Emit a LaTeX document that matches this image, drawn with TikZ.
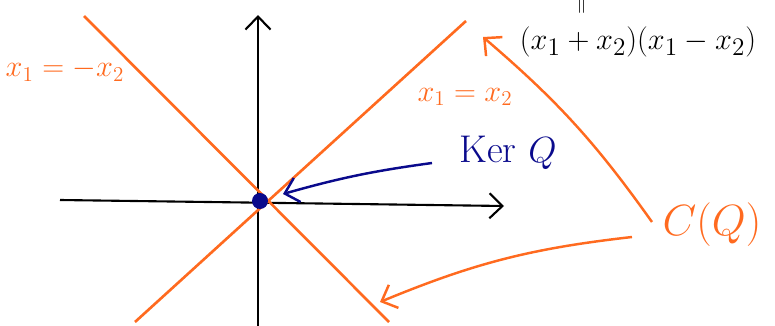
\documentclass[tikz,border=0pt]{standalone}
\usetikzlibrary{arrows.meta, calc}
\definecolor{pen}{HTML}{FF6A1F}
\definecolor{ink}{HTML}{0A0A8C}

\begin{document}
\begin{tikzpicture}[
    x=0.02cm, y=-0.02cm,
    >={Straight Barb[length=2.6mm,width=5mm]},
    axis/.style={line width=1.2pt, black},
    cone/.style={line width=1.5pt, pen},
    conelabel/.style={text=pen, font=\fontsize{17}{20}\selectfont},
    pointer/.style={->, line width=1.4pt}
]
\useasboundingbox (0,0) rectangle (775,325);

% --- Achsen ---
\coordinate (xl) at (60,200);
\coordinate (xr) at (504,206);
\coordinate (yb) at (258,330);
\coordinate (yt) at (258,15);
\draw[axis,->] (xl) -- (xr);
\draw[axis,->] (yb) -- (yt);

% --- Kegel C(Q): zwei Geraden ---
\coordinate (a1) at (135,322);
\coordinate (a2) at (466,21);
\coordinate (b1) at (84,16);
\coordinate (b2) at (389,322);
\draw[cone] (a1) -- (a2);
\draw[cone] (b1) -- (b2);

\node[conelabel] (lminus) at (65,70) {$x_1 = -x_2$};
\node[conelabel, font=\fontsize{18}{21}\selectfont] (lplus) at (465,97) {$x_1 = x_2$};

% --- Kern ---
\node[circle, fill=ink, inner sep=0pt, minimum size=0.32cm] (O) at (260,201) {};
\node[text=ink, font=\fontsize{22}{26}\selectfont] (ker) at (508,153) {Ker $Q$};
\coordinate (ks) at (432,163);
\coordinate (ke) at (283,194);
\draw[pointer, ink] (ks) to[bend right=4] (ke);

% --- Faktorisierung ---
\node[rotate=90, inner sep=0pt, font=\fontsize{12}{14}\selectfont] (eq) at (583,6) {$=$};
\node[font=\fontsize{19}{22}\selectfont] (prod) at (638,42) {$(x_1+x_2)(x_1-x_2)$};

% --- C(Q) mit Pfeilen ---
\node[text=pen, font=\fontsize{24}{28}\selectfont] (cq) at (712,225) {$C(Q)$};
\coordinate (c1) at (652,222);
\coordinate (c2) at (632,237);
\coordinate (t1) at (483,37);
\coordinate (t2) at (380,302);
\draw[pointer, pen] (c1) to[bend right=7] (t1);
\draw[pointer, pen] (c2) to[bend right=8] (t2);

\end{tikzpicture}
\end{document}
